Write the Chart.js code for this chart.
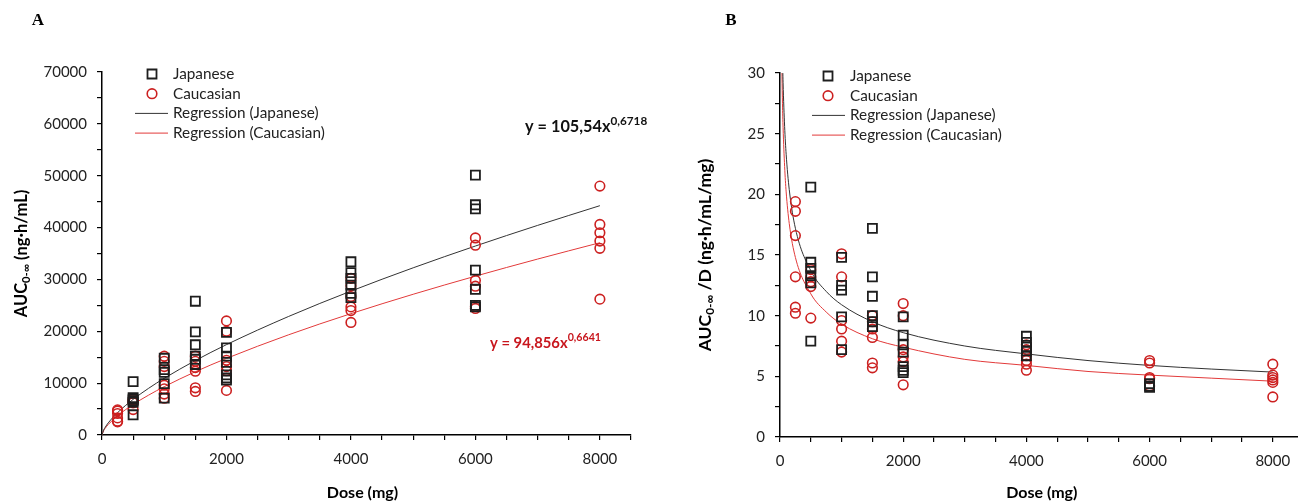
<!DOCTYPE html>
<html lang="en">
<head>
<meta charset="UTF-8">
<title>AUC vs dose – Japanese / Caucasian</title>
<script src="https://cdn.jsdelivr.net/npm/chart.js"></script>
<style>
  body { margin: 0; background: #fff; width: 1298px; height: 503px; overflow: hidden; position: relative; }
  .panel { position: absolute; top: 0; height: 503px; }
  #panelA { left: 0; width: 680px; }
  #panelB { left: 649px; width: 680px; }
</style>
</head>
<body>
<div class="panel" id="panelA"><canvas id="chartA" width="680" height="503"></canvas></div>
<div class="panel" id="panelB"><canvas id="chartB" width="680" height="503"></canvas></div>
<script>
// dose groups (mg); inner arrays below follow this order
const doseLevels = [250, 500, 1000, 1500, 2000, 4000, 6000, 8000];

// panel A: AUC0-inf (ng·h/mL)
const aucJapanese = [
  [],
  [10300, 7200, 6900, 6600, 6300, 3900],
  [14800, 12600, 12100, 9900, 7100],
  [25800, 19900, 17400, 15200, 14600, 13600],
  [19800, 16800, 15200, 14000, 11600, 11000, 10600],
  [33400, 31300, 30200, 28900, 27300, 26500],
  [50100, 44400, 43600, 31800, 28100, 25000, 24700],
  []
];
const aucCaucasian = [
  [4850, 4650, 4150, 3300, 2650, 2550],
  [6900, 6600, 6400, 6200, 4900],
  [15200, 14200, 13200, 9600, 8900, 7900, 7100],
  [15200, 14200, 13000, 12300, 9100, 8400],
  [22000, 20000, 14400, 13200, 12400, 8600],
  [30200, 28800, 26700, 24700, 24000, 21700],
  [38000, 36600, 29800, 28700, 24800, 24400],
  [48000, 40600, 39000, 37400, 36000, 26200]
];

// panel B: AUC0-inf / D (ng·h/mL/mg)
const aucDoseJapanese = [
  [],
  [20.6, 14.4, 13.9, 13.3, 12.7, 7.9],
  [14.8, 12.5, 12.1, 9.9, 7.2],
  [17.2, 13.2, 11.6, 10.0, 9.5, 9.1],
  [9.9, 8.4, 7.6, 7.0, 5.8, 5.5, 5.3],
  [8.3, 7.8, 7.4, 7.1, 6.7],
  [4.4, 4.2, 4.1],
  []
];
const aucDoseCaucasian = [
  [19.4, 18.6, 16.6, 13.2, 10.7, 10.2],
  [13.8, 13.2, 12.8, 12.4, 9.8],
  [15.1, 13.2, 9.6, 8.9, 7.9, 7.0],
  [10.0, 9.5, 8.9, 8.2, 6.1, 5.7],
  [11.0, 10.0, 7.2, 6.6, 6.2, 4.3],
  [7.6, 7.2, 6.7, 6.3, 6.0, 5.5],
  [6.3, 6.1, 4.9, 4.8, 4.2],
  [6.0, 5.1, 4.9, 4.7, 4.5, 3.3]
];

// regression curves
const fitDoseA = [0, 25, 50, 100, 250, 500, 750, 1000, 1500, 2000, 3000, 4000, 5000, 6000, 7000, 8000];
const fitAucJapanese = [0, 917, 1462, 2328, 4308, 6863, 9013, 10935, 14359, 17425, 22872, 27747, 32243, 36443, 40422, 44222];
const fitAucCaucasian = [0, 804, 1275, 2020, 3711, 5881, 7698, 9320, 12199, 14769, 19331, 23401, 27139, 30629, 33930, 37079];
const fitDoseB = [25, 40, 50, 75, 100, 150, 250, 500, 750, 1000, 1500, 2000, 3000, 4000, 5000, 6000, 7000, 8000];
const fitAucDoseJapanese = [36.7, 31.5, 29.2, 25.6, 23.3, 20.4, 17.2, 13.7, 12.0, 10.9, 9.5, 8.6, 7.5, 6.85, 6.3, 5.9, 5.6, 5.35];
const fitAucDoseCaucasian = [32.2, 27.5, 25.5, 22.3, 20.2, 17.6, 14.8, 11.8, 10.3, 9.3, 8.1, 7.4, 6.4, 5.9, 5.4, 5.1, 4.85, 4.6];

const seriesLabels = ['Japanese', 'Caucasian', 'Regression (Japanese)', 'Regression (Caucasian)'];
const xTickLabels = [0, 2000, 4000, 6000, 8000];
const yTickLabelsA = [0, 10000, 20000, 30000, 40000, 50000, 60000, 70000];
const yTickLabelsB = [0, 5, 10, 15, 20, 25, 30];

const FONT = 'Lato, "Open Sans", sans-serif';
const BLACK = '#1e1e1e';
const RED = '#cc2020';
const RED_LINE = '#e23a3a';

function toPoints(levels, groups) {
  return levels.flatMap((d, i) => groups[i].map(v => ({ x: d, y: v })));
}
function toLine(xs, ys) {
  return xs.map((x, i) => ({ x: x, y: ys[i] }));
}

function buildDatasets(jp, ca, fitX, fitJp, fitCa) {
  return [
    { label: seriesLabels[0], data: toPoints(doseLevels, jp), pointStyle: 'rect', pointRadius: 6.4,
      borderColor: BLACK, backgroundColor: 'rgba(0,0,0,0)', borderWidth: 1.8, showLine: false },
    { label: seriesLabels[1], data: toPoints(doseLevels, ca), pointStyle: 'circle', pointRadius: 4.8,
      borderColor: RED, backgroundColor: 'rgba(0,0,0,0)', borderWidth: 1.6, showLine: false },
    { label: seriesLabels[2], data: toLine(fitX, fitJp), showLine: true, pointRadius: 0,
      borderColor: '#333', borderWidth: 1, cubicInterpolationMode: 'monotone' },
    { label: seriesLabels[3], data: toLine(fitX, fitCa), showLine: true, pointRadius: 0,
      borderColor: RED_LINE, borderWidth: 1, cubicInterpolationMode: 'monotone' }
  ];
}

function buildScales(p) {
  const tickFont = { family: FONT, size: 15 };
  return {
    x: {
      type: 'linear', min: 0, max: 8500,
      border: { display: true, color: '#000', width: 1.5 },
      grid: { drawOnChartArea: false, tickLength: 5, color: '#000', lineWidth: 1.2 },
      ticks: { stepSize: 500, autoSkip: false, maxRotation: 0, padding: 10, color: '#222', font: tickFont,
        callback: v => xTickLabels.includes(v) ? String(v) : '' },
      afterFit: s => { s.height = 503 - p.bottom; }
    },
    y: {
      type: 'linear', min: 0, max: p.yMax,
      border: { display: true, color: '#000', width: 1.5 },
      grid: { drawOnChartArea: false, tickLength: 5, color: '#000', lineWidth: 1.2 },
      ticks: { stepSize: p.yStep, autoSkip: false, padding: 10, color: '#222', font: tickFont,
        callback: v => p.yLabels.includes(v) ? String(v) : '' },
      afterFit: s => { s.width = p.left; }
    }
  };
}

// draw text made of [text, 'sub'|'sup'|''] parts
function richWidth(ctx, parts, size, weight) {
  let w = 0;
  for (const [t, m] of parts) {
    ctx.font = `${weight} ${m ? size * 0.68 : size}px ${FONT}`;
    w += ctx.measureText(t).width;
  }
  return w;
}
function drawRich(ctx, parts, x, y, size, weight, supScale) {
  let cx = x;
  for (const [t, m] of parts) {
    const fs = m ? size * (supScale || 0.68) : size;
    ctx.font = `${weight} ${fs}px ${FONT}`;
    const dy = m === 'sub' ? size * 0.28 : m === 'sup' ? -size * 0.38 : 0;
    ctx.fillText(t, cx, y + dy);
    cx += ctx.measureText(t).width;
  }
}

const annotate = {
  id: 'annotate',
  afterDraw(chart, args, o) {
    const ctx = chart.ctx;
    const a = chart.chartArea;
    ctx.save();
    ctx.textBaseline = 'middle';

    // panel letter
    ctx.fillStyle = '#000';
    ctx.font = 'bold 17px "Liberation Serif", serif';
    ctx.textAlign = 'center';
    ctx.fillText(o.letter, o.letterX, 21);

    // x title
    ctx.font = `bold 16px ${FONT}`;
    ctx.fillText('Dose (mg)', (a.left + a.right) / 2 + o.xTitleShift, 493);

    // y title, rotated
    ctx.textAlign = 'left';
    ctx.save();
    ctx.translate(a.left - o.yTitleOffset, (a.top + a.bottom) / 2);
    ctx.rotate(-Math.PI / 2);
    const w = richWidth(ctx, o.yTitle, o.yTitleSize, 'bold');
    drawRich(ctx, o.yTitle, -w / 2, 0, o.yTitleSize, 'bold');
    ctx.restore();

    // legend
    const ds = chart.data.datasets;
    for (let i = 0; i < ds.length; i++) {
      const y = a.top + o.legTop + i * 19.7;
      const mx = a.left + o.legMarker;
      ctx.strokeStyle = ds[i].borderColor;
      ctx.lineWidth = ds[i].borderWidth;
      ctx.beginPath();
      if (i === 0) {
        ctx.rect(mx - 4.5, y - 4.5, 9, 9);
      } else if (i === 1) {
        ctx.arc(mx, y, 4.8, 0, Math.PI * 2);
      } else {
        ctx.moveTo(a.left + o.legLine[0], y);
        ctx.lineTo(a.left + o.legLine[1], y);
      }
      ctx.stroke();
      ctx.fillStyle = '#222';
      ctx.font = `15.3px ${FONT}`;
      ctx.fillText(ds[i].label, a.left + o.legText, y);
    }

    // fit equations
    for (const eq of o.equations || []) {
      ctx.fillStyle = eq.color;
      drawRich(ctx, eq.parts, a.left + eq.dx, a.top + eq.dy, eq.size, 'bold', 0.72);
    }
    ctx.restore();
  }
};

function makeChart(id, p, datasets, ann) {
  return new Chart(document.getElementById(id), {
    type: 'scatter',
    data: { datasets: datasets },
    options: {
      responsive: false,
      animation: false,
      layout: { padding: { left: 0, top: p.top, right: p.right, bottom: 0 } },
      scales: buildScales(p),
      plugins: { legend: { display: false }, tooltip: { enabled: false }, annotate: ann }
    },
    plugins: [annotate]
  });
}

makeChart('chartA',
  { left: 102, top: 72, right: 49, bottom: 435, yMax: 70000, yStep: 5000, yLabels: yTickLabelsA },
  buildDatasets(aucJapanese, aucCaucasian, fitDoseA, fitAucJapanese, fitAucCaucasian),
  {
    letter: 'A', letterX: 38, xTitleShift: -4, yTitleOffset: 80, yTitleSize: 16.5,
    yTitle: [['AUC', ''], ['0-∞', 'sub'], [' (ng·h/mL)', '']],
    legTop: 2, legMarker: 50, legText: 71, legLine: [33, 66],
    equations: [
      { color: '#111', dx: 423, dy: 55, size: 16.3, parts: [['y = 105,54x', ''], ['0,6718', 'sup']] },
      { color: '#c8161d', dx: 388, dy: 271, size: 14.8, parts: [['y = 94,856x', ''], ['0,6641', 'sup']] }
    ]
  });

makeChart('chartB',
  { left: 131, top: 73, right: 25.4, bottom: 437, yMax: 30, yStep: 2.5, yLabels: yTickLabelsB },
  buildDatasets(aucDoseJapanese, aucDoseCaucasian, fitDoseB, fitAucDoseJapanese, fitAucDoseCaucasian),
  {
    letter: 'B', letterX: 82, xTitleShift: 0, yTitleOffset: 75, yTitleSize: 17.5,
    yTitle: [['AUC', ''], ['0-∞', 'sub'], [' /D (ng·h/mL/mg)', '']],
    legTop: 3, legMarker: 48, legText: 70, legLine: [32, 65]
  });
</script>
</body>
</html>
